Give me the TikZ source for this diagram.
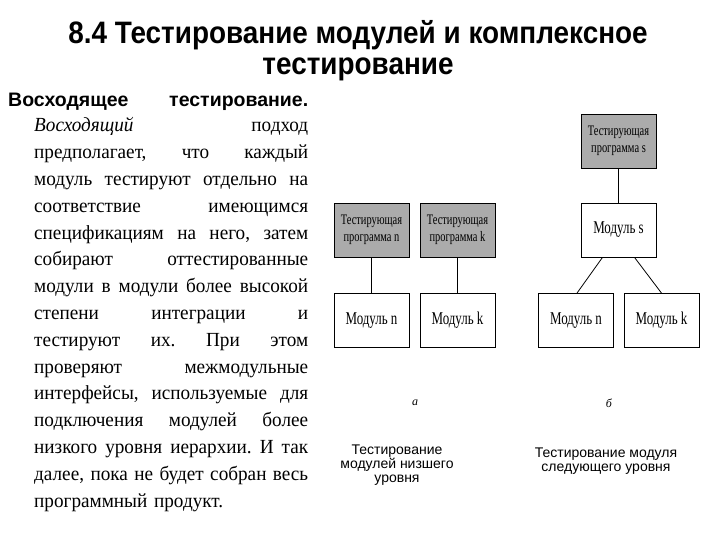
\documentclass[tikz,border=0pt]{standalone}
\usepackage{fontspec}
\setmainfont{Liberation Serif}
\setsansfont{Liberation Sans}
\newfontfamily\titlefont[FakeStretch=0.9]{Liberation Sans}
\newfontfamily\bodyfont[FakeStretch=0.96]{Liberation Serif}
\newfontfamily\boxfont[FakeStretch=0.72]{Liberation Serif}
\usetikzlibrary{positioning}

% one justified line of the left text
\newcommand\jline[1]{\leavevmode\hbox to 274pt{\frenchspacing\spaceskip=0.25em plus 1fill minus 0.1em\relax #1}}

\tikzset{
  modbox/.style={draw, line width=0.8pt, minimum width=75pt, minimum height=54pt,
    inner sep=1pt, align=center, font=\boxfont\fontsize{18}{18}\selectfont},
  progbox/.style={modbox, fill=black!33, font=\boxfont\fontsize{14.5}{16.5}\selectfont},
  caption/.style={align=center, font=\sffamily\fontsize{14}{14}\selectfont},
}

\begin{document}
\begin{tikzpicture}[x=1pt, y=-1pt, node distance=86pt, on grid]
    \useasboundingbox (0,0) rectangle (720,540);

    % Title
    \node[font=\titlefont\bfseries\fontsize{31}{31}\selectfont, align=center] (title) at (358,51)
        {8.4 Тестирование модулей и комплексное\\ тестирование};

    % Left text
    \node[anchor=base west, inner sep=0pt, font=\sffamily\bfseries\fontsize{19.5}{20}\selectfont] (head) at (8,107)
        {\makebox[300pt][s]{Восходящее тестирование.}};
    \node[anchor=north west, inner sep=0pt, text width=274pt, align=left,
        font=\bodyfont\fontsize{20}{26.8}\selectfont] (body) at (34,117.5)
        {\jline{\textit{Восходящий} подход}\\
         \jline{предполагает, что каждый}\\
         \jline{модуль тестируют отдельно на}\\
         \jline{соответствие имеющимся}\\
         \jline{спецификациям на него, затем}\\
         \jline{собирают оттестированные}\\
         \jline{модули в модули более высокой}\\
         \jline{степени интеграции и}\\
         \jline{тестируют их. При этом}\\
         \jline{проверяют межмодульные}\\
         \jline{интерфейсы, используемые для}\\
         \jline{подключения модулей более}\\
         \jline{низкого уровня иерархии. И так}\\
         \jline{далее, пока не будет собран весь}\\
         программный продукт.};

    % a: modules tested separately
    \node[progbox] (pn) at (371.5,230) {Тестирующая\\ программа n};
    \node[progbox, right=of pn] (pk) {Тестирующая\\ программа k};
    \node[modbox, below=90.5pt of pn] (mn) {Модуль n};
    \node[modbox, below=90.5pt of pk] (mk) {Модуль k};

    % b: next level module
    \node[progbox] (ps) at (618.5,141) {Тестирующая\\ программа s};
    \node[modbox, below=89pt of ps] (ms) {Модуль s};
    \node[modbox, below left=90.5pt and 42.5pt of ms] (msn) {Модуль n};
    \node[modbox, below right=90.5pt and 43pt of ms] (msk) {Модуль k};

    \draw[line width=0.8pt] (pn) -- (mn);
    \draw[line width=0.8pt] (pk) -- (mk);
    \draw[line width=0.8pt] (ps) -- (ms);
    \draw[line width=0.8pt] ([xshift=-16pt]ms.south) -- ([xshift=1pt]msn.north);
    \draw[line width=0.8pt] ([xshift=16pt]ms.south) -- ([xshift=0pt]msk.north);

    % Captions
    \node[font=\itshape\fontsize{12}{14}\selectfont] (la) at (415,403) {а};
    \node[font=\itshape\fontsize{12}{14}\selectfont] (lb) at (609,403) {б};
    \node[caption] (ca) at (397,465) {Тестирование\\ модулей низшего\\ уровня};
    \node[caption] (cb) at (606,461) {Тестирование модуля\\ следующего уровня};
\end{tikzpicture}
\end{document}
